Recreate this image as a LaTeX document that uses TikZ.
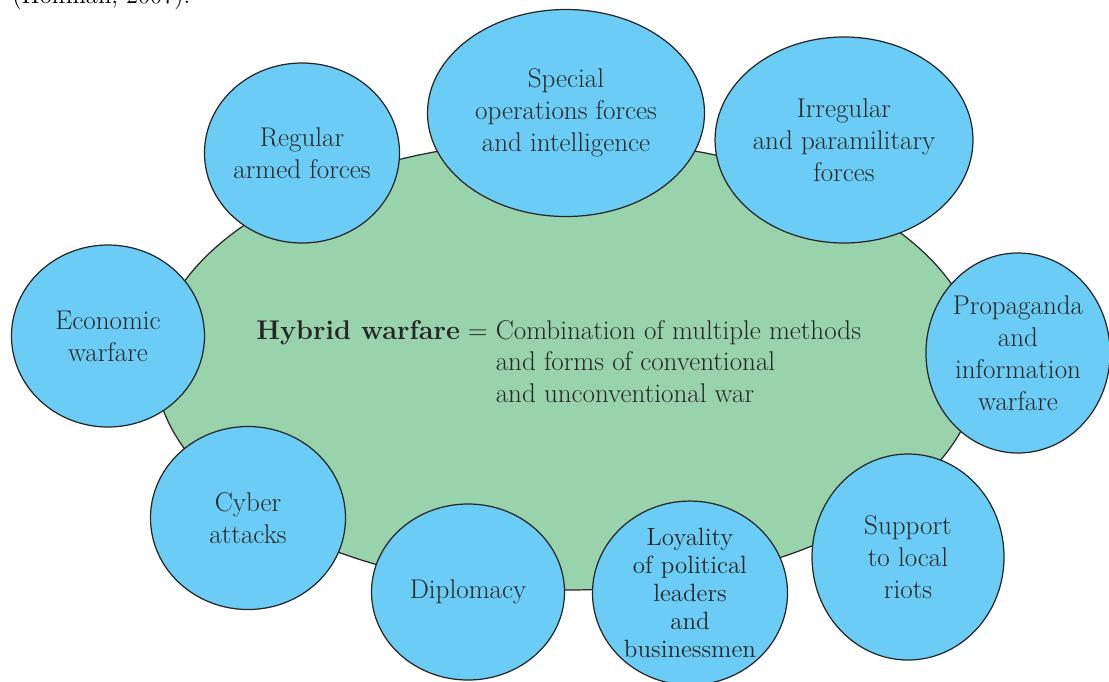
\documentclass[tikz,border=0pt]{standalone}
\usepackage{tikz}
\usepackage{xcolor}
\usetikzlibrary{shapes.geometric}

\definecolor{bubbleblue}{RGB}{107,205,245}
\definecolor{coregreen}{RGB}{153,211,172}

\begin{document}
\begin{tikzpicture}[
    bubble/.style={
        ellipse,
        draw=black!85, line width=0.7pt,
        fill=bubbleblue,
        inner sep=0pt,
        align=center,
        text=black!85,
        font=\fontsize{15.4}{18.2}\selectfont   % same size for all labels
    },
    core/.style={
        ellipse,
        draw=black!85, line width=0.7pt,
        fill=coregreen,
        minimum width=16.48cm,
        minimum height=9cm
    }
]
\useasboundingbox (0,0) rectangle (22.18,-13.62);

% --- Source line, cut by the top edge ---
\node[anchor=base west, inner sep=0pt, font=\fontsize{14}{16}\selectfont] (cite) at (0.24,-0.06) {(Hoffman, 2007).};

% --- Central ellipse ---
\node[core] (core) at (11.34,-7.30) {};
\node[anchor=base west, inner sep=0pt, text=black!85,
      font=\fontsize{15.4}{18.2}\selectfont] (hybrid) at (5.12,-6.78)
    {\begin{tabular}[t]{@{}r@{\hspace{0.3em}}l@{}}
        \textbf{Hybrid warfare} = & Combination of multiple methods\\
        & and forms of conventional\\
        & and unconventional war
     \end{tabular}};

% --- Upper row ---
\node[bubble, minimum width=3.90cm, minimum height=3.60cm] (regular) at (6.04,-3.06) {Regular\\armed forces};
\node[bubble, minimum width=5.54cm, minimum height=4.14cm] (special) at (11.32,-2.26) {Special\\operations forces\\and intelligence};
\node[bubble, minimum width=4.44cm, minimum height=4.12cm] (irregular) at (16.88,-2.80) {Irregular\\and paramilitary\\forces};

% --- Sides ---
\node[bubble, minimum width=3.86cm, minimum height=3.64cm] (economic) at (2.16,-6.72) {Economic\\warfare};
\node[bubble, minimum width=3.60cm, minimum height=4.00cm] (propaganda) at (20.36,-7.06) {Propaganda\\and\\information\\warfare};

% --- Lower row ---
\node[bubble, minimum width=3.90cm, minimum height=3.66cm] (cyber) at (4.96,-10.36) {Cyber\\attacks};
\node[bubble, minimum width=3.86cm, minimum height=3.52cm] (diplomacy) at (9.36,-11.84) {Diplomacy};
\node[bubble, minimum width=3.90cm, minimum height=3.50cm,
      font=\fontsize{14.2}{16}\selectfont] (loyalty) at (13.80,-11.86) {Loyality\\of political\\leaders\\and\\businessmen};
\node[bubble, minimum width=3.84cm, minimum height=4.12cm] (support) at (18.16,-11.14) {Support\\to local\\riots};

\end{tikzpicture}
\end{document}
